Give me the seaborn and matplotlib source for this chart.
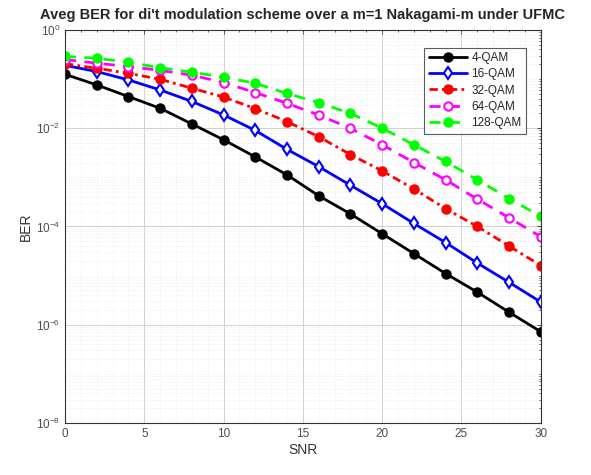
import numpy as np
import pandas as pd
import seaborn as sns
import matplotlib.pyplot as plt
from matplotlib.ticker import LogLocator, FixedLocator, NullFormatter, MultipleLocator

snr = [0, 2, 4, 6, 8, 10, 12, 14, 16, 18, 20, 22, 24, 26, 28, 30]
ber_4qam = [0.125, 0.076, 0.044, 0.0254, 0.0122, 0.0058, 0.0026, 0.00112, 4.2e-4, 1.8e-4, 7.1e-5, 2.8e-5, 1.1e-5, 4.6e-6, 1.8e-6, 7.2e-7]
ber_16qam = [0.19, 0.142, 0.096, 0.06, 0.035, 0.0186, 0.009, 0.0037, 0.00165, 6.9e-4, 2.9e-4, 1.15e-4, 4.7e-5, 1.8e-5, 7.3e-6, 2.9e-6]
ber_32qam = [0.205, 0.166, 0.131, 0.099, 0.065, 0.043, 0.025, 0.0136, 0.0067, 0.0029, 0.00135, 5.8e-4, 2.3e-4, 1.0e-4, 4.0e-5, 1.6e-5]
ber_64qam = [0.25, 0.21, 0.18, 0.15, 0.12, 0.085, 0.053, 0.032, 0.0186, 0.0099, 0.0046, 0.002, 8.9e-4, 3.6e-4, 1.5e-4, 6.2e-5]
ber_128qam = [0.29, 0.265, 0.22, 0.17, 0.138, 0.109, 0.082, 0.051, 0.033, 0.02, 0.01, 0.0046, 0.0021, 8.9e-4, 3.7e-4, 1.6e-4]

labels = ["4-QAM", "16-QAM", "32-QAM", "64-QAM", "128-QAM"]
series = [ber_4qam, ber_16qam, ber_32qam, ber_64qam, ber_128qam]

# colour, marker, dash pattern, marker face
styles = [
    ("black", "o", "", "black"),
    ("blue", "d", "", "white"),
    ("red", "o", (3, 1.5, 1, 1.5), "red"),
    ("magenta", "o", (4, 3), "white"),
    ("lime", "o", (4, 3), "lime"),
]

sns.set_style("white")
plt.rcParams['font.family'] = ['Liberation Sans', 'DejaVu Sans']

fig = plt.figure(figsize=(5.91, 4.75), dpi=100)
ax = fig.add_axes([0.110, 0.1095, 0.805, 0.8275])

for lab, vals, (c, m, d, fc) in zip(labels, series, styles):
    df = pd.DataFrame({"SNR": snr, "BER": vals})
    sns.lineplot(data=df, x="SNR", y="BER", ax=ax, color=c, marker=m,
                 markersize=6, markerfacecolor=fc, markeredgecolor=c,
                 markeredgewidth=1.5, linewidth=2, label=lab)
    if d:
        ax.lines[-1].set_dashes(d)

ax.set_yscale("log")
ax.set_xlim(0, 30)
ax.set_ylim(1e-8, 1e0)
ax.set_xticks([0, 5, 10, 15, 20, 25, 30])
ax.xaxis.set_minor_locator(MultipleLocator(1))
ax.yaxis.set_major_locator(FixedLocator([1e-8, 1e-6, 1e-4, 1e-2, 1e0]))
ax.yaxis.set_minor_locator(LogLocator(base=10, subs=np.arange(1, 10), numticks=20))
ax.yaxis.set_minor_formatter(NullFormatter())

ax.grid(True, which="major", color="#d0d0d0", linewidth=0.7)
ax.grid(True, which="minor", color="#e6e6e6", linewidth=0.5, linestyle=":")
ax.tick_params(axis="both", which="both", direction="in", colors="#4d4d4d",
               labelsize=8.5, length=3, top=True, right=True)
ax.tick_params(axis="both", which="minor", length=1.5)
for s in ax.spines.values():
    s.set_color("#333333")
    s.set_linewidth(0.8)

ax.set_xlabel("SNR", fontsize=10, color="#333333", labelpad=2)
ax.set_ylabel("BER", fontsize=10, color="#333333", labelpad=2)
ax.set_title("Aveg BER for di't modulation scheme over a m=1 Nakagami-m under UFMC",
             fontsize=10.5, fontweight="bold", pad=8)

leg = ax.legend(loc="upper right", bbox_to_anchor=(0.982, 0.97), fontsize=8.5,
                frameon=True, fancybox=False, edgecolor="#333333",
                handlelength=3.2, labelspacing=0.35, borderpad=0.4, handletextpad=0.4)
leg.get_frame().set_linewidth(0.8)

fig.savefig("out.png", dpi=100)
